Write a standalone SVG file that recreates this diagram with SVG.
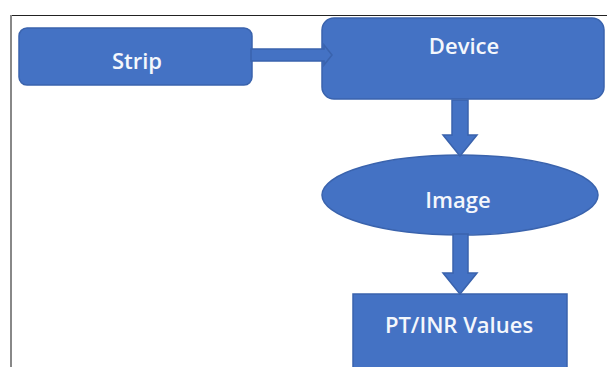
<svg xmlns="http://www.w3.org/2000/svg" width="607" height="367" viewBox="0 0 607 367">
<style>
.shape{fill:#4472C4;stroke:#3A63AD;stroke-width:1.5}
.lbl{font-family:"Open Sans","Liberation Sans",sans-serif;font-size:22px;font-weight:600;fill:#F4F7FC;text-anchor:middle}
</style>
<rect x="0" y="0" width="607" height="367" fill="#FFFFFF"/>
<line x1="10" y1="15.5" x2="607" y2="15.5" stroke="#222" stroke-width="1.2"/>
<line x1="11" y1="15" x2="11" y2="367" stroke="#888" stroke-width="2"/>
<g id="strip">
<rect class="shape" x="19" y="28" width="233" height="57" rx="8"/>
<text class="lbl" x="137" y="69">Strip</text>
</g>
<g id="device">
<rect class="shape" x="322" y="18" width="282" height="81" rx="12"/>
<text class="lbl" x="464" y="54">Device</text>
</g>
<g id="image">
<ellipse class="shape" cx="460" cy="195" rx="138" ry="40"/>
<text class="lbl" x="458" y="208">Image</text>
</g>
<g id="ptinr">
<rect class="shape" x="353" y="294" width="214" height="80"/>
<text class="lbl" x="459" y="333">PT/INR Values</text>
</g>
<g id="connectors">
<polygon class="shape" points="251,49 324,49 324,45 332,55 324,65 324,61 251,61"/>
<polygon class="shape" points="452,100 468,100 468,135 477,135 460,156 443,135 452,135"/>
<polygon class="shape" points="453,234 468,234 468,273 477,273 460,294 443,273 453,273"/>
</g>
</svg>
